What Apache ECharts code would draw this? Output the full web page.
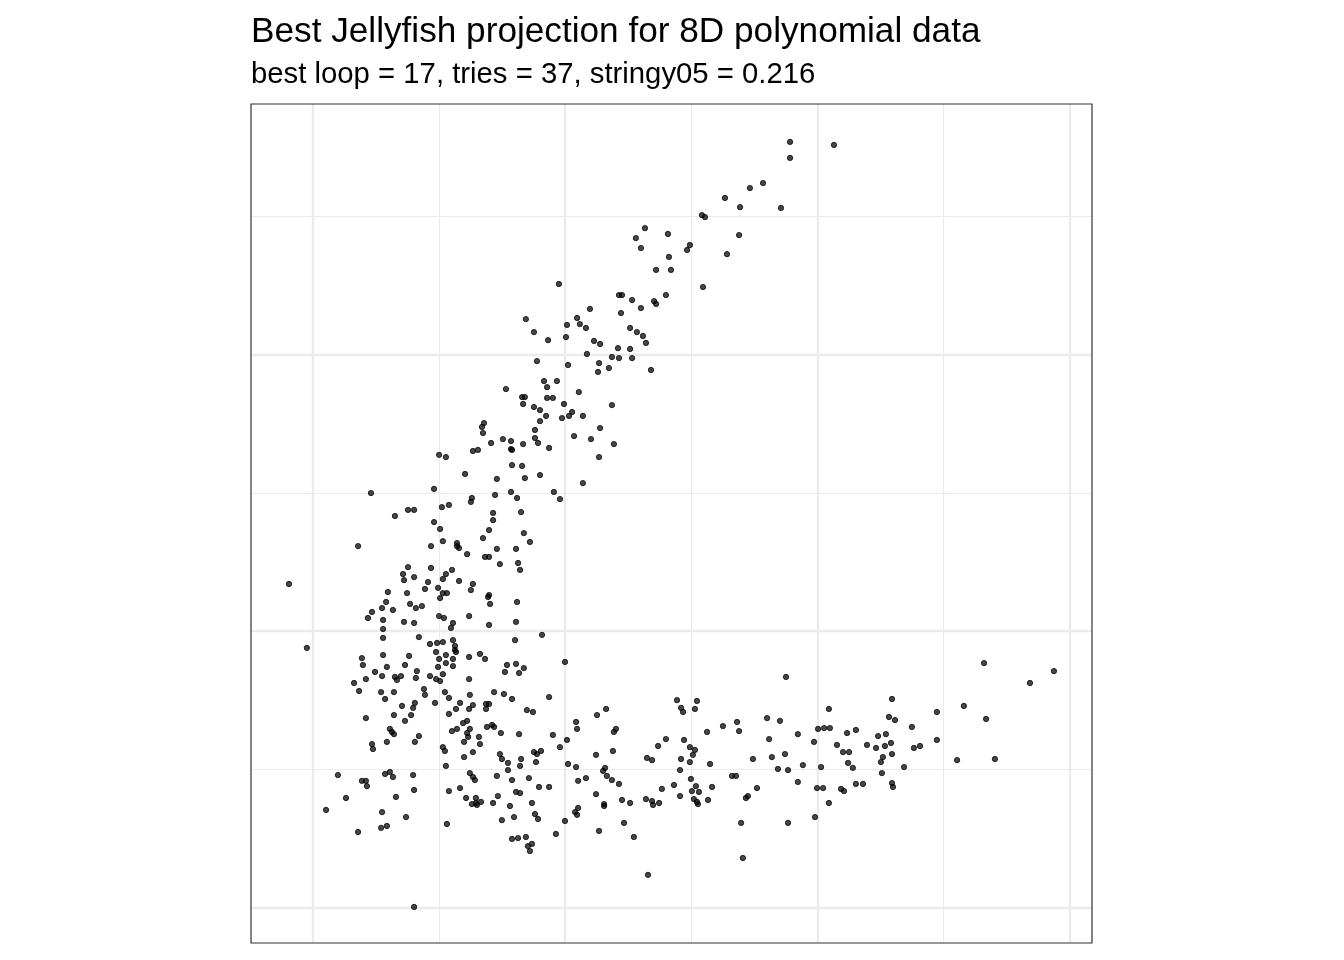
<!DOCTYPE html>
<html>
<head>
<meta charset="utf-8">
<script src="https://cdn.jsdelivr.net/npm/echarts@6/dist/echarts.min.js"></script>
<style>
html,body{margin:0;padding:0;background:#fff;}
#chart{width:1344px;height:960px;}
</style>
</head>
<body>
<div id="chart"></div>
<script>
// Projection coordinates
const titleText = "Best Jellyfish projection for 8D polynomial data";
const subtitleText = "best loop = 17, tries = 37, stringy05 = 0.216";

const xRange = [-1.2445, 2.0888];
const yRange = [-1.1284, 1.906];
const majorBreaksX = [-1, 0, 1, 2];
const minorBreaksX = [-0.5, 0.5, 1.5];
const majorBreaksY = [-1, 0, 1];
const minorBreaksY = [-0.5, 0.5, 1.5];

const armTop = [
[0.892,1.769],[1.066,1.758],[0.892,1.711],[0.785,1.620],[0.733,1.602],[0.634,1.566],[0.694,1.533],[0.856,1.530],
[0.543,1.504],[0.555,1.497],[0.317,1.457],[0.281,1.421],[0.408,1.436],[0.301,1.385],[0.690,1.432],[0.495,1.396],
[0.484,1.378],[0.412,1.353],[0.642,1.363],[0.361,1.306],[0.420,1.306],[0.547,1.244],[0.214,1.215],[0.226,1.215],
[0.400,1.215],[-0.024,1.255],[0.266,1.197],[0.353,1.193],[0.361,1.183],[0.301,1.168],[0.099,1.165],[0.222,1.150],
[-0.155,1.128],[0.048,1.132],[0.008,1.107],[0.059,1.110],[0.083,1.096],[0.258,1.096],[0.285,1.081],[-0.123,1.081],
[0.004,1.063],[-0.067,1.052],[0.309,1.067],[0.115,1.049],[0.139,1.038],[0.321,1.042],[0.210,1.023],[0.258,1.020],
[0.087,1.002],[0.186,0.991],[0.214,0.987],[0.266,0.987],[-0.111,0.976],[0.012,0.962],[0.135,0.969],[0.131,0.937],
[0.174,0.951],[0.341,0.944],[-0.083,0.904],[-0.032,0.904],[-0.071,0.882],[-0.234,0.875],[0.055,0.864],[-0.170,0.846],
[-0.159,0.846],[-0.071,0.843],[-0.048,0.843]
];

const armMid = [
[-0.166,0.821],[-0.004,0.821],[0.186,0.817],[-0.123,0.810],[-0.099,0.799],[-0.075,0.778],[0.028,0.792],[0.016,0.778],
[-0.012,0.770],[0.071,0.778],[-0.099,0.759],[-0.321,0.752],[-0.329,0.738],[0.139,0.734],[-0.325,0.716],[-0.119,0.727],
[0.036,0.705],[0.103,0.694],[0.194,0.676],[-0.119,0.698],[-0.107,0.680],[-0.246,0.694],[-0.214,0.687],[-0.166,0.676],
[-0.293,0.680],[-0.063,0.662],[-0.214,0.658],[-0.210,0.655],[-0.365,0.651],[-0.345,0.655],[-0.499,0.637],[-0.472,0.629],
[0.135,0.629],[-0.210,0.600],[-0.170,0.597],[-0.396,0.568],[-0.099,0.564],[-0.270,0.550],[-0.159,0.553],[0.071,0.535],
[-0.519,0.514],[-0.214,0.503],[-0.277,0.492],[-0.044,0.503],[-0.020,0.477],[-0.190,0.481],[-0.369,0.481],[-0.373,0.467],
[-0.622,0.438],[-0.598,0.438],[-0.488,0.448],[-0.460,0.456],[-0.285,0.427],[-0.174,0.430],[-0.285,0.401],[-0.519,0.394],
[-0.495,0.369],[-0.301,0.365],[-0.163,0.354],[-0.325,0.336],[-0.484,0.325],[-0.139,0.322],[-0.531,0.307],[-0.428,0.318],
[-0.428,0.307],[-0.420,0.300],[-0.388,0.278],[-0.270,0.297],[-0.194,0.297],[-0.317,0.268],[-0.301,0.268]
];

const bodyLeft = [
[-0.769,0.499],[-0.674,0.416],[-0.820,0.307],[-1.094,0.170],[-0.622,0.231],[-0.531,0.228],[-0.448,0.221],[-0.472,0.206],
[-0.642,0.206],[-0.638,0.184],[-0.598,0.195],[-0.484,0.188],[-0.420,0.181],[-0.543,0.177],[-0.555,0.152],[-0.503,0.156],
[-0.702,0.141],[-0.626,0.137],[-0.484,0.137],[-0.468,0.137],[-0.495,0.119],[-0.709,0.105],[-0.614,0.098],[-0.591,0.083],
[-0.567,0.090],[-0.725,0.083],[-0.765,0.069],[-0.682,0.076],[-0.781,0.047],[-0.721,0.040],[-0.638,0.033],[-0.598,0.029],
[-0.499,0.054],[-0.480,0.047],[-0.380,0.054],[-0.444,0.029],[-0.452,0.011],[-0.721,0.007],[-0.721,-0.025],[-0.579,-0.022],
[-0.535,-0.047],[-0.507,-0.043],[-0.484,-0.040],[-0.444,-0.033],[-0.436,-0.054],[-0.436,-0.069],[-0.432,-0.076],[-1.023,-0.061],
[-0.805,-0.098],[-0.721,-0.087],[-0.618,-0.090],[-0.511,-0.076],[-0.472,-0.087],[-0.380,-0.094],[-0.258,0.242],[-0.186,0.246],
[-0.178,0.221],[-0.365,0.170],[-0.373,0.148],[-0.301,0.130],[-0.305,0.123],[-0.297,0.098],[-0.190,0.105],[-0.301,0.022],
[-0.194,0.033],[-0.091,-0.014],[-0.198,-0.033],[0.000,-0.112],[-0.499,-0.101],[-0.444,-0.101],[-0.337,-0.083],[-0.317,-0.101],
[-0.472,-0.116],[-0.444,-0.127],[-0.503,-0.130],[-0.587,-0.145],[-0.484,-0.156],[-0.535,-0.163],[-0.591,-0.170],[-0.511,-0.174],
[-0.495,-0.181],[-0.380,-0.174],[-0.230,-0.123],[-0.194,-0.119],[-0.163,-0.134],[-0.238,-0.148],[-0.182,-0.152],[-0.559,-0.210],
[-0.555,-0.231],[-0.476,-0.221],[-0.460,-0.242],[-0.377,-0.231],[-0.281,-0.221],[-0.242,-0.228],[-0.210,-0.246],[-0.063,-0.239],
[-0.801,-0.123],[-0.706,-0.130],[-0.634,-0.123],[-0.753,-0.148],[-0.725,-0.163],[-0.789,-0.174],[-0.836,-0.188],[-0.674,-0.166],
[-0.666,-0.177],[-0.650,-0.163],[-0.816,-0.217],[-0.729,-0.221],[-0.678,-0.221],[-0.713,-0.246],[-0.515,-0.260],[-0.595,-0.260],
[-0.602,-0.278],[-0.646,-0.271],[-0.789,-0.315],[-0.678,-0.304],[-0.610,-0.304],[-0.634,-0.325],[-0.694,-0.354],[-0.686,-0.365],
[-0.678,-0.373],[-0.579,-0.380],[-0.595,-0.401],[-0.706,-0.401],[-0.765,-0.409],[-0.761,-0.427],[-0.484,-0.420],[-0.476,-0.434],
[-0.472,-0.488],[-0.900,-0.521],[-0.805,-0.542],[-0.789,-0.542],[-0.785,-0.561],[-0.713,-0.517],[-0.694,-0.510],[-0.682,-0.528],
[-0.602,-0.521],[-0.868,-0.604],[-0.670,-0.600],[-0.598,-0.575],[-0.460,-0.579]
];

const bodyBottom = [
[-0.416,-0.260],[-0.432,-0.282],[-0.460,-0.300],[-0.365,-0.268],[-0.380,-0.282],[-0.313,-0.264],[-0.301,-0.264],[-0.313,-0.282],
[-0.151,-0.286],[-0.127,-0.293],[0.127,-0.304],[0.163,-0.282],[0.044,-0.329],[0.048,-0.354],[-0.388,-0.325],[-0.404,-0.333],
[-0.448,-0.362],[-0.428,-0.354],[-0.377,-0.354],[-0.388,-0.369],[-0.384,-0.383],[-0.309,-0.347],[-0.289,-0.340],[-0.281,-0.347],
[-0.254,-0.369],[-0.182,-0.373],[-0.048,-0.376],[-0.341,-0.383],[-0.337,-0.409],[-0.400,-0.401],[0.008,-0.394],[-0.020,-0.420],
[-0.365,-0.438],[-0.400,-0.456],[-0.258,-0.445],[-0.250,-0.463],[-0.123,-0.438],[-0.111,-0.445],[-0.095,-0.434],[-0.174,-0.463],
[-0.226,-0.477],[-0.115,-0.474],[-0.178,-0.488],[-0.226,-0.503],[0.012,-0.481],[0.044,-0.492],[0.123,-0.448],[0.151,-0.506],
[0.159,-0.495],[0.166,-0.524],[-0.377,-0.514],[-0.365,-0.528],[-0.357,-0.539],[-0.270,-0.524],[-0.210,-0.539],[-0.143,-0.532],
[0.052,-0.542],[0.083,-0.532],[-0.416,-0.568],[-0.103,-0.564],[-0.063,-0.564],[-0.194,-0.582],[-0.178,-0.586],[0.123,-0.590],
[-0.392,-0.604],[-0.353,-0.604],[-0.353,-0.622],[-0.369,-0.626],[-0.349,-0.629],[-0.333,-0.618],[-0.266,-0.597],[-0.285,-0.622],
[-0.131,-0.622],[-0.218,-0.633],[0.155,-0.626],[0.155,-0.633],[0.052,-0.640],[0.040,-0.655],[0.048,-0.665],[-0.119,-0.662],
[-0.107,-0.680],[-0.202,-0.673],[-0.250,-0.684],[0.000,-0.687],[-0.468,-0.698],[0.135,-0.723],[-0.036,-0.734],[-0.210,-0.752],
[-0.186,-0.749],[-0.155,-0.745],[-0.131,-0.770],[-0.147,-0.778],[-0.139,-0.796],[-0.947,-0.647],[-0.725,-0.655],[-0.630,-0.673],
[-0.729,-0.712],[-0.706,-0.705],[-0.820,-0.727],[-0.598,-0.998]
];

const armRight = [
[0.876,-0.166],[0.444,-0.250],[0.523,-0.253],[0.460,-0.278],[0.468,-0.293],[0.515,-0.282],[1.046,-0.282],[0.202,-0.354],
[0.194,-0.365],[0.682,-0.329],[0.626,-0.344],[0.563,-0.365],[0.690,-0.362],[0.801,-0.315],[0.852,-0.325],[0.923,-0.373],
[1.003,-0.354],[1.027,-0.351],[1.050,-0.351],[0.987,-0.401],[0.400,-0.391],[0.369,-0.416],[0.472,-0.394],[0.809,-0.391],
[0.190,-0.434],[0.495,-0.420],[0.515,-0.430],[0.507,-0.448],[0.325,-0.459],[0.345,-0.467],[0.460,-0.463],[0.495,-0.474],
[0.575,-0.481],[0.745,-0.463],[0.820,-0.456],[0.872,-0.445],[0.943,-0.485],[1.015,-0.492],[0.844,-0.499],[0.884,-0.503],
[0.456,-0.503],[0.186,-0.539],[0.214,-0.553],[0.499,-0.535],[0.662,-0.524],[0.678,-0.524],[0.432,-0.557],[0.384,-0.571],
[0.519,-0.561],[0.503,-0.579],[0.531,-0.582],[0.583,-0.564],[0.761,-0.568],[0.923,-0.546],[0.999,-0.568],[1.023,-0.568],
[0.456,-0.597],[0.226,-0.611],[0.258,-0.622],[0.321,-0.608],[0.345,-0.615],[0.373,-0.622],[0.349,-0.629],[0.511,-0.608],
[0.523,-0.618],[0.527,-0.626],[0.567,-0.611],[0.725,-0.597],[0.717,-0.604],[1.046,-0.622],[0.234,-0.694],[0.273,-0.745],
[0.698,-0.694],[0.884,-0.694],[0.991,-0.673],[0.705,-0.821],[0.329,-0.882],
[1.661,-0.116],[1.938,-0.145],[1.843,-0.188],[1.296,-0.246],[1.581,-0.271],[1.669,-0.318],[1.474,-0.293],[1.284,-0.311],
[1.308,-0.322],[1.118,-0.369],[1.153,-0.358],[1.375,-0.347],[1.241,-0.380],[1.272,-0.373],[1.078,-0.412],[1.197,-0.412],
[1.233,-0.423],[1.268,-0.416],[1.292,-0.405],[1.474,-0.394],[1.383,-0.423],[1.407,-0.416],[1.102,-0.438],[1.126,-0.438],
[1.296,-0.445],[1.260,-0.456],[1.252,-0.474],[1.122,-0.477],[1.141,-0.495],[1.344,-0.492],[1.554,-0.467],[1.704,-0.463],
[1.256,-0.514],[1.153,-0.553],[1.181,-0.553],[1.094,-0.571],[1.106,-0.579],[1.296,-0.550],[1.300,-0.564]
];

const points = [].concat(armTop, armMid, bodyLeft, bodyBottom, armRight);

const gridColor = '#EBEBEB';
const gridLines = []
  .concat(majorBreaksX.map(v => ({ xAxis: v, lineStyle: { width: 2.4 } })))
  .concat(minorBreaksX.map(v => ({ xAxis: v, lineStyle: { width: 1.1 } })))
  .concat(majorBreaksY.map(v => ({ yAxis: v, lineStyle: { width: 2.4 } })))
  .concat(minorBreaksY.map(v => ({ yAxis: v, lineStyle: { width: 1.1 } })));

const fontFamily = 'Liberation Sans, Arial, Helvetica, sans-serif';
const chart = echarts.init(document.getElementById('chart'), null, { renderer: 'canvas' });
chart.setOption({
  animation: false,
  backgroundColor: '#ffffff',
  title: [
    { text: titleText, left: 246, top: 10,
      textStyle: { fontFamily: fontFamily, fontSize: 35.2, fontWeight: 'normal', color: '#000' } },
    { text: subtitleText, left: 246, top: 55,
      textStyle: { fontFamily: fontFamily, fontSize: 29.3, fontWeight: 'normal', color: '#000' } }
  ],
  grid: { left: 251, top: 104, width: 841, height: 839, show: true, borderColor: '#333333', borderWidth: 1.2, backgroundColor: 'transparent', z: 20 },
  xAxis: { type: 'value', min: xRange[0], max: xRange[1], axisLine: { show: false }, axisTick: { show: false }, axisLabel: { show: false }, splitLine: { show: false } },
  yAxis: { type: 'value', min: yRange[0], max: yRange[1], axisLine: { show: false }, axisTick: { show: false }, axisLabel: { show: false }, splitLine: { show: false } },
  series: [
    { type: 'line', data: [], z: 1, silent: true,
      markLine: { z: 1, silent: true, symbol: ['none', 'none'], label: { show: false }, animation: false,
        lineStyle: { color: gridColor, type: 'solid' }, emphasis: { disabled: true }, data: gridLines } },
    { type: 'scatter', data: points, z: 10, symbol: 'circle', symbolSize: 5.3, silent: true,
      itemStyle: { color: 'rgba(0,0,0,0.72)', borderColor: 'rgba(0,0,0,0.75)', borderWidth: 1, opacity: 1 } }
  ]
});
</script>
</body>
</html>
